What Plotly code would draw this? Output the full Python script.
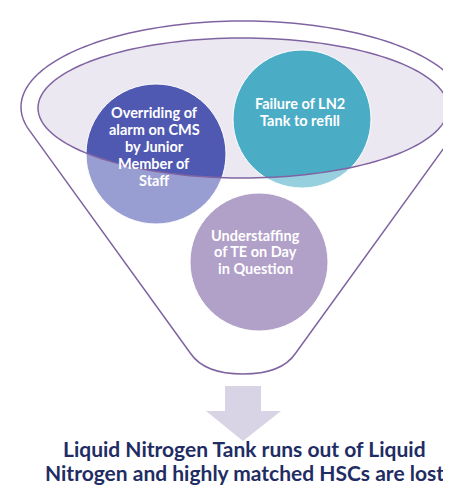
import numpy as np
import plotly.graph_objects as go

# ---- content ----
cause_labels = [
    ["Overriding of", "alarm on CMS", "by Junior", "Member of", "Staff"],
    ["Failure of LN2", "Tank to refill"],
    ["Understaffing", "of TE on Day", "in Question"],
]
cause_colors = ["#5059b2", "#4bacc6", "#b1a0c8"]
outcome_text = ["Liquid Nitrogen Tank runs out of Liquid",
                "Nitrogen and highly matched HSCs are lost"]

W, H = 451, 486
PURPLE = "#8064a2"

# geometry (pixel space, y down)
cx = 235
outer = dict(cy=99, a=222, b=86)
inner = dict(cy=100, a=205, b=70)
apex_y = 418
bottom_cut = 345
bottom_y = 366
circles = [(148, 146, 70), (294, 111, 69), (251, 254, 69)]
label_pos = [(146, 112, 17), (292, 103, 17), (247, 235, 16.5)]  # x, first-line y, step
outcome_pos = (236, 450, 24)


def ell_pts(cy, a, b, t0, t1, n=120):
    t = np.linspace(t0, t1, n)
    return cx + a * np.cos(t), cy + b * np.sin(t)


def path_from(xs, ys):
    s = f"M {xs[0]:.2f},{ys[0]:.2f} "
    s += " ".join(f"L {x:.2f},{y:.2f}" for x, y in zip(xs[1:], ys[1:]))
    return s


# funnel outline
d = apex_y - outer["cy"]
yt = outer["b"] ** 2 / d
th0 = np.arcsin(yt / outer["b"])
xs, ys = ell_pts(outer["cy"], outer["a"], outer["b"], np.pi - th0, 2 * np.pi + th0)
xr, yr = xs[-1], ys[-1]
xl, yl = xs[0], ys[0]
frac = (apex_y - bottom_cut) / (apex_y - yr)
x_cut_r = cx + (xr - cx) * frac
x_cut_l = cx - (cx - xl) * frac
funnel = path_from(xs, ys)
funnel += f" L {x_cut_r:.2f},{bottom_cut} "
funnel += f"C {x_cut_r-10:.2f},{bottom_cut+15} {cx+25},{bottom_y} {cx},{bottom_y} "
funnel += f"C {cx-25},{bottom_y} {x_cut_l+10:.2f},{bottom_cut+15} {x_cut_l:.2f},{bottom_cut} Z"

# inner ellipse
ixs, iys = ell_pts(inner["cy"], inner["a"], inner["b"], 0, 2 * np.pi, 160)
inner_path = path_from(ixs, iys) + " Z"

# overlay under inner ellipse (lightens circle parts outside opening)
oxs, oys = ell_pts(inner["cy"], inner["a"], inner["b"], np.pi, 0, 120)
overlay = path_from(oxs, oys) + f" L {oxs[-1]:.2f},235 L {oxs[0]:.2f},235 Z"

shapes = []
shapes.append(dict(type="path", path=inner_path, fillcolor="#ece8f2",
                   line=dict(width=0)))
for i in range(2):
    x0, y0, r = circles[i]
    shapes.append(dict(type="circle", x0=x0 - r, x1=x0 + r, y0=y0 - r, y1=y0 + r,
                       fillcolor=cause_colors[i], line=dict(color="white", width=1)))
shapes.append(dict(type="path", path=overlay, fillcolor="rgba(255,255,255,0.42)",
                   line=dict(width=0)))
x0, y0, r = circles[2]
shapes.append(dict(type="circle", x0=x0 - r, x1=x0 + r, y0=y0 - r, y1=y0 + r,
                   fillcolor=cause_colors[2], line=dict(color="white", width=1)))
shapes.append(dict(type="path", path=inner_path, fillcolor="rgba(0,0,0,0)",
                   line=dict(color=PURPLE, width=1.5)))
shapes.append(dict(type="path", path=funnel, fillcolor="rgba(0,0,0,0)",
                   line=dict(color=PURPLE, width=1.5)))
# down arrow
shapes.append(dict(type="path",
                   path="M 217,378 L 253,378 L 253,403 L 273,403 L 235,433 L 198,403 L 217,403 Z",
                   fillcolor="#d9d3e6", line=dict(width=0)))

annotations = []
for (lx, ly, step), lines in zip(label_pos, cause_labels):
    for k, line in enumerate(lines):
        annotations.append(dict(x=lx, y=ly + k * step, text="<b>" + line + "</b>",
                                showarrow=False, xref="x", yref="y",
                                xanchor="center", yanchor="middle", yshift=8,
                                font=dict(family="Lato", size=14.5, color="white")))
ox, oy, ostep = outcome_pos
for k, line in enumerate(outcome_text):
    annotations.append(dict(x=ox, y=oy + k * ostep, text="<b>" + line + "</b>",
                            showarrow=False, xref="x", yref="y",
                            xanchor="center", yanchor="middle", yshift=10,
                            font=dict(family="Lato", size=21, color="#1f2d64")))

fig = go.Figure()
fig.add_trace(go.Scatter(x=[0, W], y=[0, H], mode="markers",
                         marker=dict(opacity=0), hoverinfo="skip", showlegend=False))
fig.update_layout(
    width=W, height=H, margin=dict(l=0, r=0, t=0, b=0),
    paper_bgcolor="white", plot_bgcolor="white",
    xaxis=dict(range=[0, W], visible=False, fixedrange=True),
    yaxis=dict(range=[H, 0], visible=False, fixedrange=True),
    shapes=shapes, annotations=annotations, showlegend=False,
)
fig.write_html("out.html")
